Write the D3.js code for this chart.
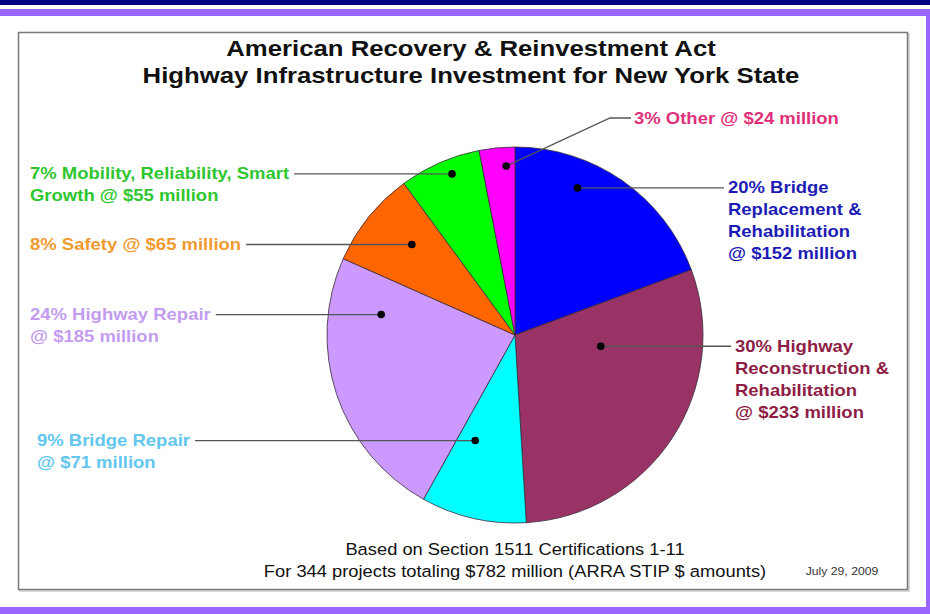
<!DOCTYPE html>
<html>
<head>
<meta charset="utf-8">
<script src="https://cdn.jsdelivr.net/npm/d3@7/dist/d3.min.js"></script>
<style>
  html, body { margin: 0; padding: 0; background: #fff; }
  svg { display: block; }
  text { font-family: "Liberation Sans", Arial, sans-serif; }
</style>
</head>
<body>
<svg id="chart" width="930" height="614"></svg>
<script>
// ARRA highway infrastructure investment, New York State (millions of dollars)
const categories = [
  "Bridge Replacement & Rehabilitation",
  "Highway Reconstruction & Rehabilitation",
  "Bridge Repair",
  "Highway Repair",
  "Safety",
  "Mobility, Reliability, Smart Growth",
  "Other"
];
const amounts = [152, 233, 71, 185, 65, 55, 24];
const percents = [20, 30, 9, 24, 8, 7, 3];

// Label text, line by line, built from the values above
const labelLines = [
  [`${percents[0]}% Bridge`, "Replacement &", "Rehabilitation", `@ $${amounts[0]} million`],
  [`${percents[1]}% Highway`, "Reconstruction &", "Rehabilitation", `@ $${amounts[1]} million`],
  [`${percents[2]}% Bridge Repair`, `@ $${amounts[2]} million`],
  [`${percents[3]}% Highway Repair`, `@ $${amounts[3]} million`],
  [`${percents[4]}% Safety @ $${amounts[4]} million`],
  [`${percents[5]}% Mobility, Reliability, Smart`, `Growth @ $${amounts[5]} million`],
  [`${percents[6]}% Other @ $${amounts[6]} million`]
];

const titleLines = [
  "American Recovery & Reinvestment Act",
  "Highway Infrastructure Investment for New York State"
];
const footnoteLines = [
  "Based on Section 1511 Certifications 1-11",
  "For 344 projects totaling $782 million (ARRA STIP $ amounts)"
];
const dateText = "July 29, 2009";

// Styling
const sliceColors = ["#0000ff", "#993366", "#00ffff", "#cc99ff", "#ff6600", "#00ff00", "#ff00ff"];
const labelColors = ["#1c1cb4", "#8e1d46", "#62c6ee", "#c39cf0", "#f09a30", "#2ec62e", "#e0307a"];

// The chart's type is set slightly wide: horizontal stretch applied to all text
const stretch = 1.17;

// Leader anchor inside each slice: fraction of the slice's angle, fraction of radius,
// label side and label x position
const anchors = [
  { af: 0.33, rf: 0.85, side: "right", lx: 728 },
  { af: 0.26, rf: 0.46, side: "right", lx: 735 },
  { af: 0.74, rf: 0.60, side: "left",  lx: 37 },
  { af: 0.82, rf: 0.72, side: "left",  lx: 30 },
  { af: 0.58, rf: 0.73, side: "left",  lx: 30 },
  { af: 0.59, rf: 0.92, side: "left",  lx: 30 },
  { af: 0.73, rf: 0.90, side: "elbow", lx: 634, ly: 118 }
];

const W = 930, H = 614;
const cx = 515, cy = 335, R = 188;
const lineGap = 22;

const svg = d3.select("#chart");

function wideText(parent, x, y, sx) {
  return parent.append("text").attr("transform", `translate(${x},${y}) scale(${sx},1)`);
}

// Page frame bands
svg.append("rect").attr("x", 0).attr("y", 0).attr("width", W).attr("height", H).attr("fill", "#fff");
svg.append("rect").attr("x", 0).attr("y", 0).attr("width", W).attr("height", 5).attr("fill", "#000080");
svg.append("rect").attr("x", 0).attr("y", 9).attr("width", W).attr("height", 7).attr("fill", "#9966ff");
svg.append("rect").attr("x", 926).attr("y", 9).attr("width", 4).attr("height", H - 9).attr("fill", "#9966ff");
svg.append("rect").attr("x", 0).attr("y", 607).attr("width", W).attr("height", 7).attr("fill", "#9966ff");

// Chart area box
svg.append("rect").attr("x", 20).attr("y", 34).attr("width", 889).attr("height", 557)
  .attr("fill", "none").attr("stroke", "#d8d8d8").attr("stroke-width", 2);
svg.append("rect").attr("x", 18.5).attr("y", 32.5).attr("width", 889).attr("height", 557)
  .attr("fill", "#fff").attr("stroke", "#7a7a7a").attr("stroke-width", 1.5);

// Title
titleLines.forEach((ln, i) => {
  wideText(svg, 471, 56 + i * 27, stretch)
    .attr("text-anchor", "middle")
    .attr("font-size", 22).attr("font-weight", "bold").attr("fill", "#111")
    .text(ln);
});

// Pie
const pie = d3.pie().sort(null).value(d => d);
const arcs = pie(amounts);
const arc = d3.arc().innerRadius(0).outerRadius(R);

const g = svg.append("g").attr("transform", `translate(${cx},${cy})`);
g.selectAll("path").data(arcs).join("path")
  .attr("d", arc)
  .attr("fill", (d, i) => sliceColors[i])
  .attr("stroke", "#3a2a3a").attr("stroke-width", 0.8);

// Leader anchors
const anchorPts = arcs.map((d, i) => {
  const a = d.startAngle + anchors[i].af * (d.endAngle - d.startAngle);
  const r = anchors[i].rf * R;
  return [cx + r * Math.sin(a), cy - r * Math.cos(a)];
});

const labelsG = svg.append("g");
const leadersG = svg.append("g");
const dotsG = svg.append("g");

arcs.forEach((d, i) => {
  const [px, py] = anchorPts[i];
  const an = anchors[i];
  const ly = an.side === "elbow" ? an.ly : py;

  const t = wideText(labelsG, an.lx, ly + 5.5, stretch)
    .attr("font-size", 15.8).attr("font-weight", "bold")
    .attr("fill", labelColors[i]);
  labelLines[i].forEach((ln, k) => {
    t.append("tspan").attr("x", 0).attr("dy", k === 0 ? 0 : lineGap).text(ln);
  });

  let pts;
  if (an.side === "right") {
    pts = [[px, py], [an.lx - 4, py]];
  } else if (an.side === "left") {
    const firstW = t.select("tspan").node().getComputedTextLength() * stretch;
    pts = [[an.lx + firstW + 5, py], [px, py]];
  } else {
    pts = [[px, py], [an.lx - 24, ly], [an.lx - 3, ly]];
  }
  leadersG.append("path")
    .attr("d", d3.line()(pts))
    .attr("fill", "none").attr("stroke", "#555").attr("stroke-width", 1.3);

  dotsG.append("circle").attr("cx", px).attr("cy", py).attr("r", 3.8).attr("fill", "#000");
});

// Footnotes
footnoteLines.forEach((ln, i) => {
  wideText(svg, 515, 555 + i * 22, 1.11)
    .attr("text-anchor", "middle")
    .attr("font-size", 16.5).attr("fill", "#111")
    .text(ln);
});
wideText(svg, 842, 575, 1.2).attr("text-anchor", "middle")
  .attr("font-size", 10.2).attr("fill", "#333").text(dateText);
</script>
</body>
</html>
